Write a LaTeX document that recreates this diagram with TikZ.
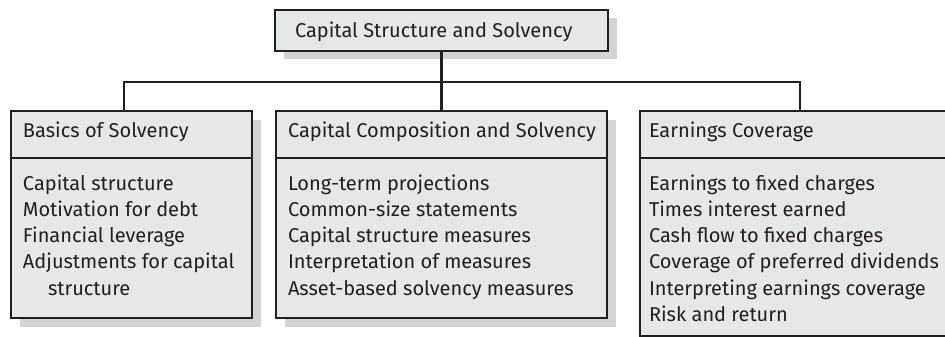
\documentclass[tikz,border=0pt]{standalone}
\usepackage{fontspec}
\setmainfont{Fira Sans}
\usetikzlibrary{positioning, shadows}
\definecolor{boxgray}{HTML}{E6E7E8}
\definecolor{shadegray}{HTML}{D1D3D4}
\definecolor{inkline}{HTML}{231F20}
% box text: fixed width and height, lines never wrap
\newcommand{\topicbody}[3]{\parbox[c][#2][t]{#1}{\begin{tabular}{@{}l@{}}#3\end{tabular}}}
\newcommand{\topictitle}[2]{\makebox[#1][l]{#2}}

\begin{document}
\begin{tikzpicture}[x=1pt, y=-1pt, font=\fontsize{20}{26.3}\selectfont, text=inkline,
    grayshadow/.style={drop shadow={shadow xshift=8.5pt, shadow yshift=-8.5pt, fill=shadegray, opacity=1}},
    titlebox/.style={draw=inkline, line width=2.5pt, fill=boxgray, rectangle, outer sep=0pt, grayshadow, inner xsep=20pt, minimum height=41pt, text height=14pt, text depth=0pt},
    topichead/.style={draw=inkline, line width=2.5pt, fill=boxgray, rectangle, outer sep=0pt, grayshadow, inner xsep=12pt, minimum height=47pt, text height=15pt, text depth=10pt},
    topiclist/.style={draw=inkline, line width=2.5pt, fill=boxgray, rectangle, outer sep=0pt, grayshadow, inner xsep=12pt, inner ysep=13.6pt},
    link/.style={draw=inkline, line width=2.2pt}]
    \useasboundingbox (0,0) rectangle (945,337);

    \node (title) [titlebox, anchor=north west] at (275,10) {\topictitle{293pt}{Capital Structure and Solvency}};

    \node (basics) [topichead, anchor=north west] at (11,111) {\topictitle{217pt}{Basics of Solvency}};
    \node (basicslist) [topiclist, below=0pt of basics] {\topicbody{217pt}{132.8pt}{Capital structure\\ Motivation for debt\\ Financial leverage\\ Adjustments for capital\\ \hspace*{25pt}structure}};

    \node (compose) [topichead, anchor=north west] at (276,111) {\topictitle{307pt}{Capital Composition and Solvency}};
    \node (composelist) [topiclist, below=0pt of compose] {\topicbody{307pt}{132.8pt}{Long-term projections\\ Common-size statements\\ Capital structure measures\\ Interpretation of measures\\ Asset-based solvency measures}};

    \node (coverage) [topichead, inner xsep=9pt, anchor=north west] at (640,111) {\topictitle{292pt}{Earnings Coverage}};
    \node (coveragelist) [topiclist, inner xsep=9pt, below=0pt of coverage] {\topicbody{292pt}{150.8pt}{Earnings to fixed charges\\ Times interest earned\\ Cash flow to fixed charges\\ Coverage of preferred dividends\\ Interpreting earnings coverage\\ Risk and return}};

    \coordinate (busleft) at (124,82);
    \coordinate (busright) at (800,82);
    \draw [link] (title.south) -- (compose.north);
    \draw [link] (basics.north -| busleft) |- (busright) -- (busright |- coverage.north);
\end{tikzpicture}
\end{document}
